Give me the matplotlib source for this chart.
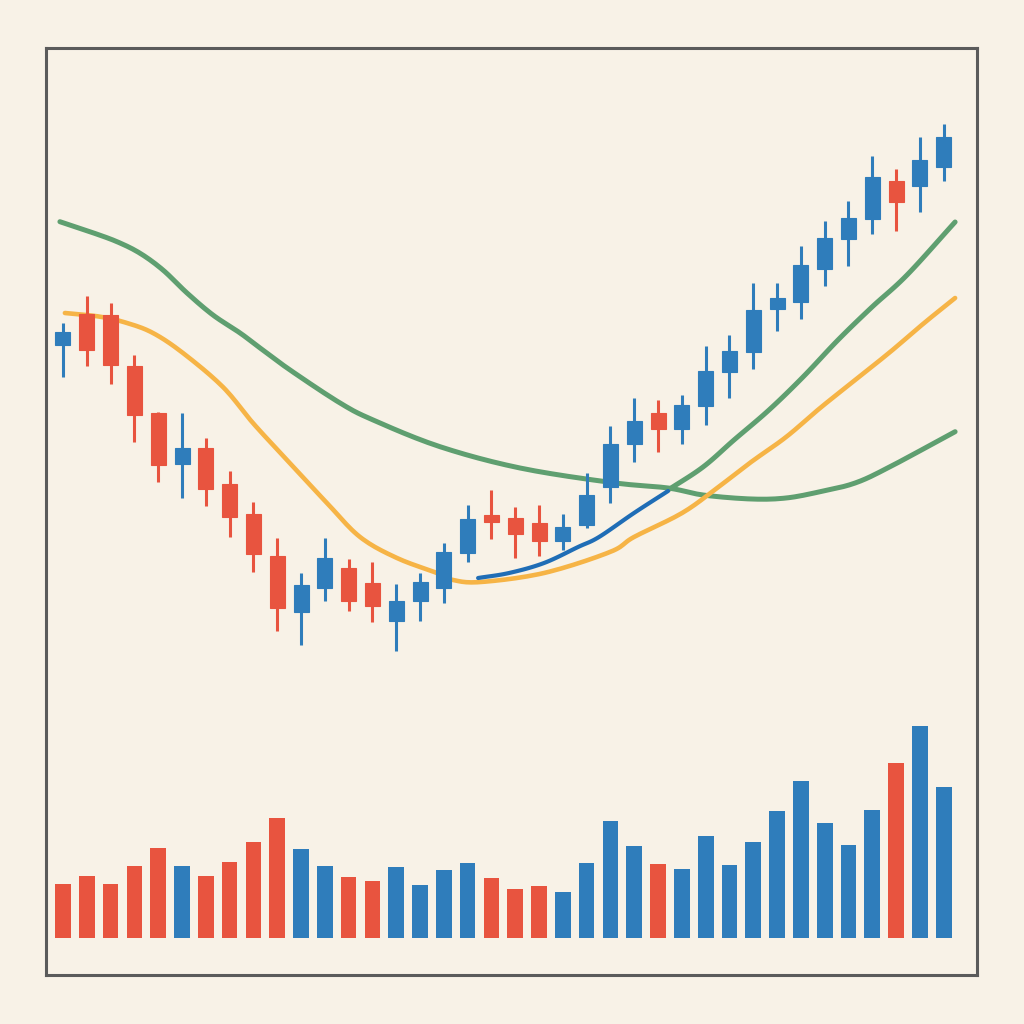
import matplotlib
matplotlib.use("Agg")
import matplotlib.pyplot as plt
import numpy as np

# ---- data ----
opens  = [131.5, 134.63, 134.53, 129.43, 124.67, 119.57, 121.17, 117.6, 114.57, 110.4,
          104.83, 107.23, 109.23, 107.73, 103.93, 105.9, 107.17, 110.67, 114.5, 114.2,
          113.67, 111.9, 113.47, 117.33, 121.57, 124.67, 123.07, 125.4, 128.77, 130.77,
          135.13, 135.83, 139.13, 142.13, 144.1, 147.93, 147.37, 149.3]
closes = [132.8, 131.03, 129.47, 124.47, 119.47, 121.17, 117.13, 114.33, 110.6, 105.2,
          107.53, 110.23, 105.93, 105.43, 105.9, 107.77, 110.77, 114.1, 113.8, 112.6,
          111.9, 113.27, 116.47, 121.6, 123.87, 123.07, 125.47, 128.93, 130.9, 135.03,
          136.23, 139.47, 142.23, 144.17, 148.33, 145.77, 149.97, 152.27]
highs  = [133.73, 136.4, 135.73, 130.5, 124.8, 124.7, 122.23, 118.93, 115.77, 112.17,
          108.67, 112.17, 110.07, 109.8, 107.6, 108.73, 111.73, 115.5, 117.0, 115.33,
          115.5, 114.6, 118.67, 123.37, 126.17, 126.0, 126.53, 131.43, 132.47, 137.73,
          137.73, 141.4, 143.87, 145.87, 150.43, 149.13, 152.33, 153.6]
lows   = [128.33, 129.4, 127.63, 121.8, 117.8, 116.2, 115.43, 112.27, 108.8, 102.93,
          101.47, 105.87, 104.9, 103.83, 100.87, 103.9, 105.67, 109.83, 112.1, 110.23,
          110.4, 111.0, 113.17, 115.67, 119.77, 120.8, 121.6, 123.5, 126.23, 129.07,
          132.93, 134.1, 137.4, 139.43, 142.57, 142.87, 144.77, 147.87]

volumes = [537, 614, 540, 720, 894, 720, 614, 760, 960, 1197,
           884, 720, 610, 564, 704, 524, 680, 747, 594, 487,
           517, 454, 747, 1170, 917, 740, 687, 1020, 730, 954,
           1270, 1570, 1150, 927, 1277, 1744, 2120, 1507]
volume_up = [False, False, False, False, False, True, False, False, False, False,
             True, True, False, False, True, True, True, True, False, False,
             False, True, True, True, True, False, True, True, True, True,
             True, True, True, True, True, False, True, True]

slow_x = [-0.13, 1.13, 2.27, 3.24, 4.2, 5.21, 6.3, 7.44, 8.28, 9.54, 11.64, 13.03,
          15.84, 19.2, 23.11, 25.42, 26.89, 28.91, 30.38, 31.81, 33.28, 34.75, 37.48]
slow_y = [143.83, 142.83, 141.83, 140.67, 139.0, 136.7, 134.5, 132.7, 131.2, 129.0,
          125.7, 124.0, 121.33, 119.2, 117.73, 117.2, 116.5, 116.1, 116.2, 116.83,
          117.7, 119.33, 122.83]

mid_x = [0.08, 1.56, 2.69, 3.78, 5.04, 6.72, 7.98, 9.41, 11.09, 12.48, 14.03, 15.71,
         16.39, 17.56, 20.21, 22.98, 23.99, 26.01, 27.48, 28.91, 30.38, 31.81, 33.28,
         34.75, 36.18, 37.48]
mid_y = [134.7, 134.33, 133.7, 132.7, 130.7, 127.3, 123.7, 120.0, 115.7, 112.3, 110.2,
         108.7, 108.0, 107.8, 108.7, 110.8, 112.3, 114.7, 117.2, 119.8, 122.3, 125.2,
         128.0, 130.8, 133.7, 136.2]

fast_x = [17.44, 18.74, 20.21, 21.64, 22.52, 23.99, 25.42]
fast_y = [108.2, 108.7, 109.7, 111.3, 112.3, 114.7, 116.9]

rise_x = [25.42, 26.89, 28.19, 29.66, 31.09, 32.56, 33.99, 35.46, 37.48]
rise_y = [117.0, 119.3, 122.0, 125.0, 128.3, 132.0, 135.3, 138.5, 143.8]

# ---- style ----
BG = "#f8f2e7"
UP = "#2f7dbb"
DOWN = "#e8543f"
GREEN = "#5f9f70"
ORANGE = "#f6b446"
BLUE_LINE = "#1f6db6"
FRAME = "#5b5b5b"


def smooth_path(xs, ys, steps=12):
    """Catmull-Rom rendering through the read points (drawing only)."""
    p = np.column_stack([xs, ys]).astype(float)
    p = np.vstack([2 * p[0] - p[1], p, 2 * p[-1] - p[-2]])
    out = []
    t = np.linspace(0, 1, steps, endpoint=False)[:, None]
    for k in range(1, len(p) - 2):
        p0, p1, p2, p3 = p[k - 1], p[k], p[k + 1], p[k + 2]
        seg = 0.5 * ((2 * p1) + (-p0 + p2) * t + (2 * p0 - 5 * p1 + 4 * p2 - p3) * t ** 2
                     + (-p0 + 3 * p1 - 3 * p2 + p3) * t ** 3)
        out.append(seg)
    out.append(p[-2][None, :])
    out = np.vstack(out)
    return out[:, 0], out[:, 1]


fig = plt.figure(figsize=(10.24, 10.24), dpi=100, facecolor=BG)
rect = [46 / 1024, 1 - 975 / 1024, 931 / 1024, 927 / 1024]

vax = fig.add_axes(rect, facecolor="none")
ax = fig.add_axes(rect, facecolor="none")
vax.set_zorder(0)
ax.set_zorder(1)

n = len(opens)
x = np.arange(n)

# volume
vcols = [UP if u else DOWN for u in volume_up]
vax.bar(x, volumes, width=0.66, color=vcols, edgecolor="none")
vax.set_xlim(-0.714, 38.40)
vax.set_ylim(-373, 8897)
vax.axis("off")

# moving averages
for xs, ys, col, lw in [(slow_x, slow_y, GREEN, 3.6), (mid_x, mid_y, ORANGE, 3.3),
                        (rise_x, rise_y, GREEN, 3.6), (fast_x, fast_y, BLUE_LINE, 3.0)]:
    sx, sy = smooth_path(xs, ys)
    ax.plot(sx, sy, color=col, lw=lw, solid_capstyle="round", solid_joinstyle="round", zorder=2)

# candles
for i in range(n):
    up = closes[i] >= opens[i]
    c = UP if up else DOWN
    ax.vlines(i, lows[i], highs[i], color=c, lw=2.2, zorder=3)
    lo = min(opens[i], closes[i])
    h = abs(closes[i] - opens[i])
    ax.bar(i, h, bottom=lo, width=0.63, color=c, edgecolor=c, lw=0.8, zorder=4)

ax.set_xlim(-0.714, 38.40)
ax.set_ylim(68.5, 161.2)
ax.set_xticks([])
ax.set_yticks([])
for s in ax.spines.values():
    s.set_color(FRAME)
    s.set_linewidth(2.2)

fig.savefig("out.png", dpi=100, facecolor=BG)
